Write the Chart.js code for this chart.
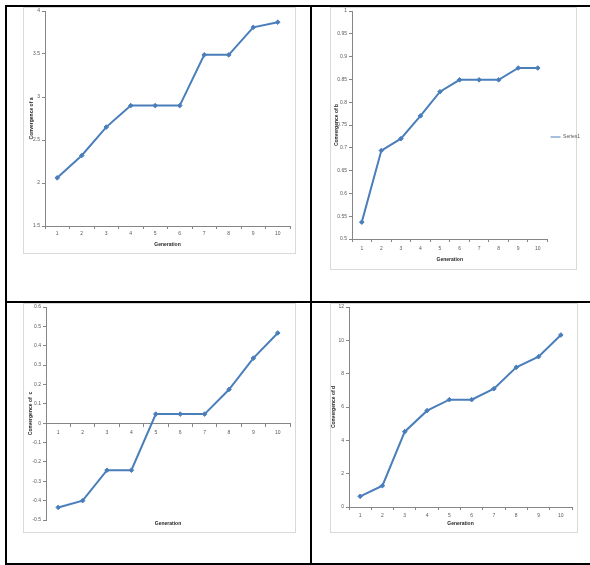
<!DOCTYPE html>
<html>
<head>
<meta charset="utf-8">
<script src="https://cdn.jsdelivr.net/npm/chart.js@4.4.1/dist/chart.umd.min.js"></script>
<style>
  body { margin: 0; background: #fff; width: 590px; height: 565px; position: relative; overflow: hidden; }
  .rule { position: absolute; background: #000; }
  .box { position: absolute; border: 1px solid #d9d9d9; box-sizing: border-box; background: #fff; }
  canvas { position: absolute; }
</style>
</head>
<body>
<!-- table lines -->
<div class="rule" style="left:5px; top:5px; width:585px; height:2px;"></div>
<div class="rule" style="left:5px; top:5px; width:2px; height:560px;"></div>
<div class="rule" style="left:5px; top:563px; width:585px; height:2px;"></div>
<div class="rule" style="left:310px; top:5px; width:2px; height:560px;"></div>
<div class="rule" style="left:5px; top:301px; width:585px; height:2px;"></div>

<!-- chart frames -->
<div class="box" style="left:23px; top:7px; width:273px; height:247px;"></div>
<div class="box" style="left:330px; top:7px; width:247px; height:263px;"></div>
<div class="box" style="left:23px; top:303px; width:273px; height:230px;"></div>
<div class="box" style="left:330px; top:303px; width:248px; height:230px;"></div>

<canvas id="chartA" width="272" height="248" style="left:23px; top:5px;"></canvas>
<canvas id="chartB" width="260" height="264" style="left:330px; top:5px;"></canvas>
<canvas id="chartC" width="272" height="230" style="left:23px; top:302px;"></canvas>
<canvas id="chartD" width="247" height="230" style="left:330px; top:302px;"></canvas>

<script>
// --- data ---
const generations = ['1', '2', '3', '4', '5', '6', '7', '8', '9', '10'];
const convA = [2.06, 2.32, 2.65, 2.90, 2.90, 2.90, 3.49, 3.49, 3.81, 3.87];
const convB = [0.537, 0.694, 0.720, 0.770, 0.823, 0.849, 0.849, 0.849, 0.875, 0.875];
const convC = [-0.435, -0.400, -0.243, -0.243, 0.047, 0.047, 0.047, 0.174, 0.336, 0.466];
const convD = [0.64, 1.28, 4.52, 5.78, 6.44, 6.44, 7.10, 8.38, 9.02, 10.32];

// axis ranges [min, max, step]
const rangeA = [1.5, 4, 0.5];
const rangeB = [0.5, 1, 0.05];
const rangeC = [-0.5, 0.6, 0.1];
const rangeD = [0, 12, 2];

// --- shared styles ---
const lineColor = '#4a7ebb';
const axisColor = '#868686';
const labelColor = '#595959';
const titleColor = '#262626';
const tinyFont = { family: 'Liberation Sans', size: 5 };
const titleFont = { family: 'Liberation Sans', size: 5, weight: 'bold' };

const fmt = (v) => String(Math.round(v * 100) / 100);

function buildChart(id, cfg) {
    const ctx = document.getElementById(id).getContext('2d');
    const scales = {
        x: {
            type: 'category',
            offset: true,
            position: cfg.zeroAxis ? { y: 0 } : 'bottom',
            grid: { drawOnChartArea: false, tickLength: 3, color: axisColor, offset: true },
            border: { color: axisColor },
            ticks: { color: labelColor, font: tinyFont, padding: cfg.xTickPad, maxRotation: 0, autoSkip: false },
            title: {
                display: !cfg.zeroAxis,
                text: 'Generation',
                font: titleFont,
                color: titleColor,
                padding: 0
            }
        },
        y: {
            min: cfg.range[0],
            max: cfg.range[1],
            ticks: { stepSize: cfg.range[2], color: labelColor, font: tinyFont, padding: 2, callback: fmt },
            grid: { drawOnChartArea: false, tickLength: 3, color: axisColor },
            border: { color: axisColor },
            title: { display: true, text: cfg.yTitle, font: titleFont, color: titleColor, padding: 0 },
            afterFit: (s) => { s.width = cfg.yWidth; }
        }
    };
    if (!cfg.zeroAxis) {
        scales.x.afterFit = (s) => { s.height = cfg.xHeight; };
    } else {
        // separate bottom axis that only carries the title
        scales.x2 = {
            type: 'category',
            position: 'bottom',
            offset: true,
            grid: { display: false },
            border: { display: false },
            ticks: { display: false },
            title: { display: true, text: 'Generation', font: titleFont, color: titleColor, padding: 0 },
            afterFit: (s) => { s.height = cfg.xHeight; }
        };
    }

    return new Chart(ctx, {
        type: 'line',
        data: {
            labels: generations,
            datasets: [{
                label: 'Series1',
                data: cfg.values,
                xAxisID: 'x',
                yAxisID: 'y',
                borderColor: lineColor,
                backgroundColor: lineColor,
                borderWidth: 2,
                pointStyle: 'rectRot',
                pointRadius: 2.3,
                pointBorderWidth: 1,
                tension: 0,
                fill: false
            }]
        },
        options: {
            responsive: false,
            animation: false,
            layout: { padding: cfg.padding },
            plugins: {
                legend: cfg.legend ? {
                    display: true,
                    position: 'right',
                    labels: {
                        font: tinyFont,
                        color: labelColor,
                        boxWidth: 8,
                        padding: 3,
                        usePointStyle: true,
                        pointStyle: 'line',
                        pointStyleWidth: 10
                    }
                } : { display: false },
                tooltip: { enabled: false }
            },
            scales: scales
        }
    });
}

buildChart('chartA', {
    values: convA, range: rangeA, yTitle: 'Convergence of a',
    padding: { left: 6, top: 6, right: 3, bottom: 5 },
    yWidth: 16, xHeight: 22, xTickPad: 2
});

buildChart('chartB', {
    values: convB, range: rangeB, yTitle: 'Convergence of b',
    padding: { left: 4, top: 6, right: 0, bottom: 6 },
    yWidth: 18, xHeight: 24, xTickPad: 4, legend: true
});

buildChart('chartC', {
    values: convC, range: rangeC, yTitle: 'Convergence of  c',
    padding: { left: 5, top: 5, right: 3, bottom: 5 },
    yWidth: 18, xHeight: 7, xTickPad: 3, zeroAxis: true
});

buildChart('chartD', {
    values: convD, range: rangeD, yTitle: 'Convergence of d',
    padding: { left: 1, top: 5, right: 4, bottom: 5 },
    yWidth: 18, xHeight: 20, xTickPad: 3
});
</script>
</body>
</html>
